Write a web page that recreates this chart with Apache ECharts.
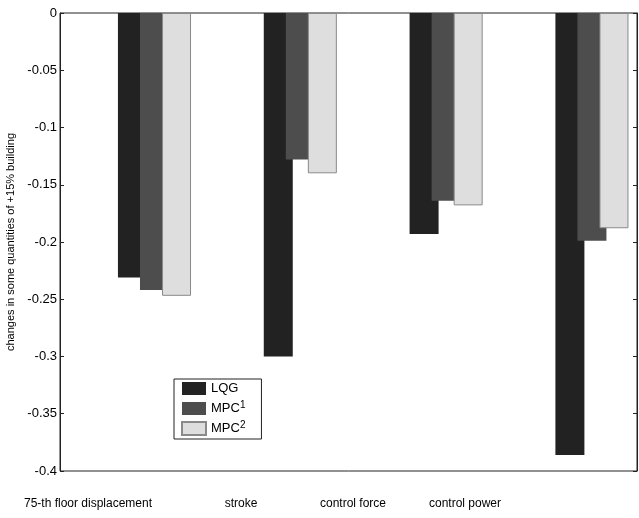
<!DOCTYPE html>
<html>
<head>
<meta charset="utf-8">
<script src="https://cdn.jsdelivr.net/npm/echarts@6/dist/echarts.min.js"></script>
<style>
  html, body { margin: 0; padding: 0; background: #fff; }
  #chart { width: 639px; height: 518px; }
</style>
</head>
<body>
<div id="chart"></div>
<script>
// categories (group positions 1..4) and their labels
const categories = ['75-th floor displacement', 'stroke', 'control force', 'control power'];
const seriesNames = ['LQG', 'MPC1', 'MPC2'];

// values
const lqgValues = [-0.231, -0.300, -0.193, -0.386];
const mpc1Values = [-0.242, -0.128, -0.164, -0.199];
const mpc2Values = [-0.247, -0.140, -0.168, -0.188];

const yTicks = [0, -0.05, -0.1, -0.15, -0.2, -0.25, -0.3, -0.35, -0.4];

const myChart = echarts.init(document.getElementById('chart'));

const toPoints = (vals) => vals.map((v, i) => [i + 1, v]);

const fontFamily = '"Liberation Sans", Arial, sans-serif';

// x positions of the category texts under the plot
const labelX = [88, 241, 353, 465];

const option = {
  animation: false,
  backgroundColor: '#fff',
  textStyle: { fontFamily: fontFamily },
  grid: {
    left: 60,
    right: 2,
    top: 13,
    bottom: 47,
    outerBoundsMode: 'none',
    containLabel: false,
    show: true,
    borderColor: '#222',
    borderWidth: 1,
    backgroundColor: 'transparent'
  },
  xAxis: {
    type: 'value',
    min: 0.352,
    max: 4.309,
    axisLine: { show: false },
    axisTick: { show: false },
    axisLabel: { show: false },
    splitLine: { show: false }
  },
  yAxis: [
    {
      type: 'value',
      min: -0.4,
      max: 0,
      interval: 0.05,
      position: 'left',
      name: 'changes in some quantities of +15% building',
      nameLocation: 'middle',
      nameGap: 44,
      nameTextStyle: { color: '#000', fontSize: 11, fontFamily: fontFamily },
      axisLine: { show: true, lineStyle: { color: '#222' } },
      axisTick: { show: true, inside: true, length: 4, lineStyle: { color: '#222' } },
      axisLabel: {
        color: '#000',
        fontSize: 13,
        margin: 3,
        formatter: (v) => {
          const t = yTicks.find(k => Math.abs(k - v) < 1e-9);
          return t === undefined ? '' : String(t);
        }
      },
      splitLine: { show: false }
    },
    {
      type: 'value',
      min: -0.4,
      max: 0,
      interval: 0.05,
      position: 'right',
      axisLine: { show: true, lineStyle: { color: '#222' } },
      axisTick: { show: true, inside: true, length: 4, lineStyle: { color: '#222' } },
      axisLabel: { show: false },
      splitLine: { show: false }
    }
  ],
  legend: {
    data: seriesNames,
    orient: 'vertical',
    left: 174,
    top: 379,
    icon: 'rect',
    itemWidth: 24,
    itemHeight: 13,
    itemGap: 5,
    padding: [3, 16, 3, 7],
    borderColor: '#222',
    borderWidth: 1,
    backgroundColor: '#fff',
    textStyle: {
      color: '#000',
      fontSize: 13,
      fontFamily: fontFamily,
      rich: {
        sup: { fontSize: 10, verticalAlign: 'top', padding: [0, 0, 7, 0], color: '#000' }
      }
    },
    formatter: (name) => {
      if (name === 'MPC1') return 'MPC{sup|1}';
      if (name === 'MPC2') return 'MPC{sup|2}';
      return name;
    }
  },
  graphic: categories.map((c, i) => ({
    type: 'text',
    x: labelX[i],
    y: 498,
    style: {
      text: c,
      fill: '#000',
      font: '12px ' + fontFamily,
      textAlign: 'center'
    }
  })),
  series: [
    {
      name: 'LQG',
      type: 'bar',
      barWidth: 29,
      barGap: '-24%',
      itemStyle: { color: '#222222' },
      data: toPoints(lqgValues)
    },
    {
      name: 'MPC1',
      type: 'bar',
      barWidth: 29,
      barGap: '-24%',
      itemStyle: { color: '#4d4d4d' },
      data: toPoints(mpc1Values)
    },
    {
      name: 'MPC2',
      type: 'bar',
      barWidth: 29,
      barGap: '-24%',
      itemStyle: { color: '#dedede', borderColor: '#8a8a8a', borderWidth: 1 },
      data: toPoints(mpc2Values)
    }
  ]
};

myChart.setOption(option);

window.addEventListener('resize', () => myChart.resize());
</script>
</body>
</html>
